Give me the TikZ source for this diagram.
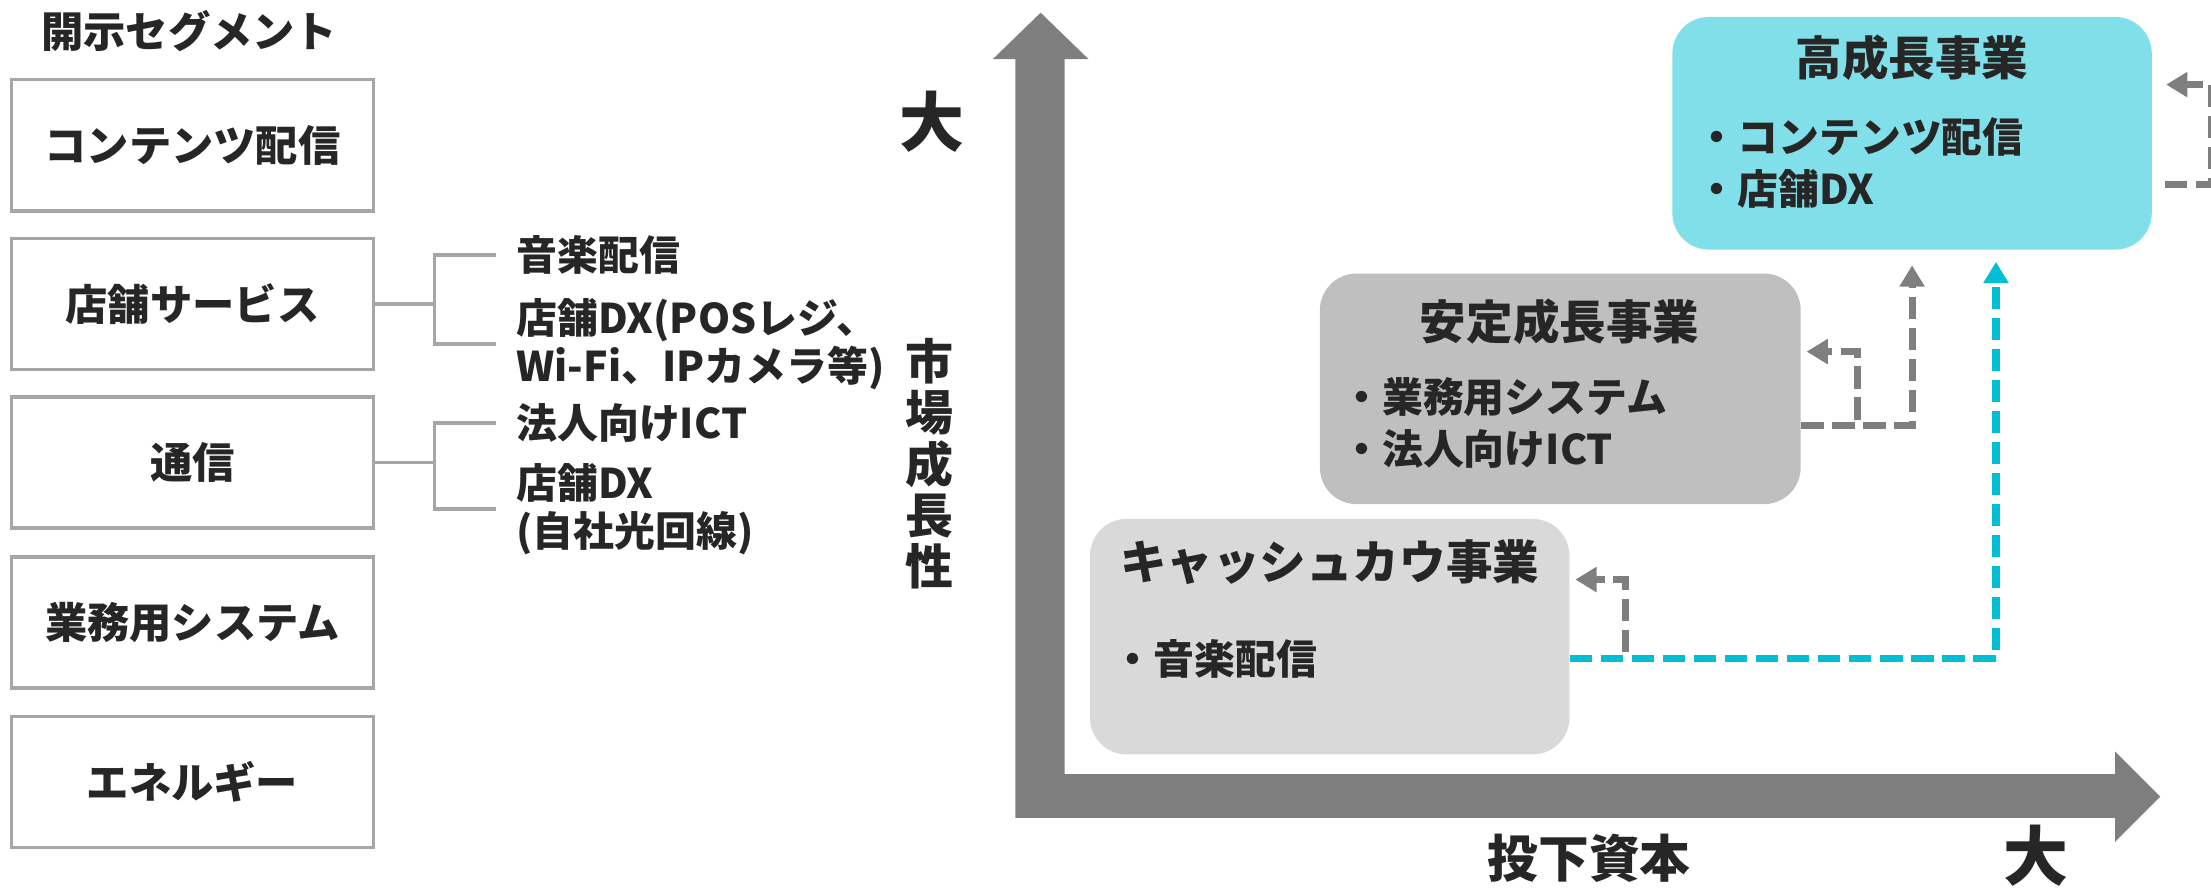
\documentclass[tikz,border=0pt]{standalone}
\usepackage{fontspec}
\setmainfont{Noto Sans CJK JP}
\usepackage{tikz}
\usetikzlibrary{positioning, arrows.meta, calc}
\definecolor{cInk}    {HTML}{262626}
\definecolor{cFrame}  {HTML}{A6A6A6}
\definecolor{cAxis}   {HTML}{7F7F7F}
\definecolor{cCow}    {HTML}{D9D9D9}
\definecolor{cStable} {HTML}{BFBFBF}
\definecolor{cGrowth} {HTML}{80DFE8}
\definecolor{cFlow}   {HTML}{00BED4}
\newcommand{\jpsize}[2]{\bfseries\fontsize{#1}{#2}\selectfont}

\tikzset{
  segbox/.style={draw=cFrame, line width=2.5pt, minimum width=257pt, minimum height=93pt,
                 inner sep=0pt, font=\jpsize{30}{36}},
  subitem/.style={anchor=west, inner sep=0pt, align=left, font=\jpsize{29}{34}},
  bracket/.style={draw=cFrame, line width=2.5pt},
  bizbox/.style={rounded corners=26pt, minimum width=340pt, inner sep=0pt},
  biztitle/.style={inner sep=0pt, font=\jpsize{33}{40}},
  bizitem/.style={anchor=west, inner sep=0pt, align=left, font=\jpsize{29}{37}},
  flowG/.style={draw=cAxis, line width=5pt, dash pattern=on 16pt off 6pt,
                -{Triangle[length=15pt, width=17pt]}},
  flowC/.style={flowG, draw=cFlow},
}

\begin{document}
\begin{tikzpicture}[x=1pt, y=-1pt, text=cInk]
  \useasboundingbox (0,0) rectangle (1568,633);

  % disclosed segments
  \node[anchor=west, inner sep=0pt, font=\jpsize{30}{36}] (segTitle) at (29,22) {開示セグメント};
  \node[segbox] (sContent) at (136.5,103)   {コンテンツ配信};
  \node[segbox] (sShop)    at (136.5,215.5) {店舗サービス};
  \node[segbox] (sComm)    at (136.5,328)   {通信};
  \node[segbox] (sBiz)     at (136.5,441.5) {業務用システム};
  \node[segbox] (sEnergy)  at (136.5,554.5) {エネルギー};

  \node[subitem] (tMusic)   at (366,181) {音楽配信};
  \node[subitem] (tShopDX)  at (366,244) {店舗DX(POSレジ、\\Wi-Fi、IPカメラ等)};
  \node[subitem] (tCorpICT) at (366,300) {法人向けICT};
  \node[subitem] (tFiber)   at (366,361) {店舗DX\\(自社光回線)};

  \coordinate (jShop) at (308,215.5);
  \coordinate (jComm) at (308,328);
  \draw[bracket] (sShop.east) -- (jShop);
  \draw[bracket] (jShop) |- ([xshift=-14pt]tMusic.west);
  \draw[bracket] (jShop) |- ([xshift=-14pt]tShopDX.west);
  \draw[bracket] (sComm.east) -- (jComm);
  \draw[bracket] (jComm) |- ([xshift=-14pt]tCorpICT.west);
  \draw[bracket] (jComm) |- ([xshift=-14pt]tFiber.west);

  % axes
  \fill[cAxis] (720,42) -- (704,42) -- (738,9) -- (772,42) -- (755,42) -- (755,549)
    -- (1500,549) -- (1500,533) -- (1532,565) -- (1500,597) -- (1500,580) -- (720,580) -- cycle;
  \node[inner sep=0pt, font=\jpsize{46}{50}] (yBig) at (661,86) {大};
  \node[inner sep=0pt, align=center, font=\jpsize{34}{36.4}] (yName) at (659,329) {市\\場\\成\\長\\性};
  \node[inner sep=0pt, font=\jpsize{36}{40}] (xName) at (1127,609) {投下資本};
  \node[inner sep=0pt, font=\jpsize{46}{50}] (xBig) at (1444,607) {大};

  % business portfolio
  \node[bizbox, fill=cCow, minimum height=167pt] (bCow) at (943,451.5) {};
  \node[bizbox, fill=cStable, minimum width=341pt, minimum height=163.5pt] (bStable) at (1106.5,275.75) {};
  \node[bizbox, fill=cGrowth, minimum height=165pt] (bGrowth) at (1356,94.5) {};

  \node[biztitle] (tCow)    at (943,399)  {キャッシュカウ事業};
  \node[biztitle] (tStable) at (1106,228) {安定成長事業};
  \node[biztitle] (tGrowth) at (1356,41)  {高成長事業};
  \node[bizitem] (iCow)    at (789,467)   {・音楽配信};
  \node[bizitem] (iStable) at (951,300)   {・業務用システム\\・法人向けICT};
  \node[bizitem] (iGrowth) at (1203,115.5) {・コンテンツ配信\\・店舗DX};

  \draw[flowG] ($(bCow.east)+(0,15.5)$) -- ++(39.5,0) |- ($(bCow.east)+(4,-40.5)$);
  \draw[flowC] ($(bCow.east)+(0,15.5)$) -| ($(bGrowth.south)+(59.5,8.5)$);
  \draw[flowG] ($(bStable.east)+(0,25.8)$) -- ++(40,0) |- ($(bStable.east)+(4,-26.4)$);
  \draw[flowG] ($(bStable.east)+(0,25.8)$) -| ($(bGrowth.south)+(0,11)$);
  \begin{scope}
    \clip (0,0) rectangle (1568,633);
    \draw[flowG] ($(bGrowth.east)+(9,36.5)$) -- ++(33,0) |- ($(bGrowth.east)+(10,-34.5)$);
  \end{scope}
\end{tikzpicture}
\end{document}
